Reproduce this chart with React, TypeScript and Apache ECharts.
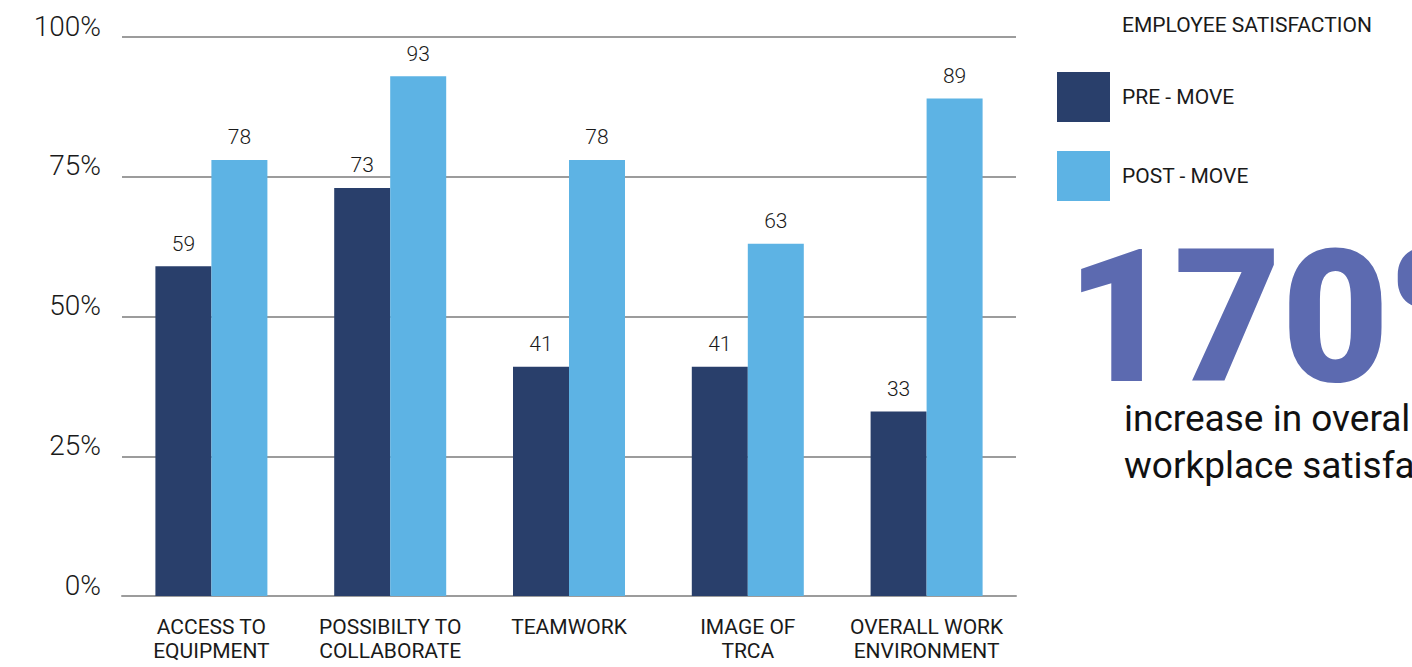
import React, { useEffect, useRef } from "react";
import * as echarts from "echarts";

const categories = [
  "ACCESS TO\nEQUIPMENT",
  "POSSIBILTY TO\nCOLLABORATE",
  "TEAMWORK",
  "IMAGE OF\nTRCA",
  "OVERALL WORK\nENVIRONMENT",
];
const seriesNames = ["PRE - MOVE", "POST - MOVE"];
const preMove = [59, 73, 41, 41, 33];
const postMove = [78, 93, 78, 63, 89];
const yMin = 0;
const yMax = 100;
const yInterval = 25;
const legendTitle = "EMPLOYEE SATISFACTION";
const bigNumber = "170%";
const captionLines = ["increase in overall", "workplace satisfaction"];

const FONT = "Roboto, 'Noto Sans', sans-serif";
const PRE_COLOR = "#293f6b";
const POST_COLOR = "#5db3e4";
const GRID_COLOR = "#9c9c9c";
const TEXT_COLOR = "#1a1a1a";

export default function App() {
  const ref = useRef<HTMLDivElement>(null);

  useEffect(() => {
    if (!ref.current) return;
    const chart = echarts.init(ref.current, undefined, { renderer: "svg" });
    const valueLabel = {
      show: true,
      position: "top",
      distance: 12,
      fontFamily: FONT,
      fontSize: 21,
      fontWeight: 300,
      color: TEXT_COLOR,
    };
    chart.setOption({
      animation: false,
      backgroundColor: "#ffffff",
      grid: { left: 122, right: 396, top: 37, bottom: 71, containLabel: false },
      legend: {
        data: seriesNames,
        orient: "vertical",
        left: 1057,
        top: 72,
        padding: 0,
        icon: "rect",
        itemWidth: 53,
        itemHeight: 50,
        itemGap: 29,
        selectedMode: false,
        textStyle: {
          fontFamily: FONT,
          fontSize: 21,
          fontWeight: 400,
          color: TEXT_COLOR,
          padding: [0, 0, 0, 7],
        },
      },
      xAxis: {
        type: "category",
        data: categories,
        axisLine: { show: true, lineStyle: { color: GRID_COLOR, width: 2 } },
        axisTick: { show: false },
        axisLabel: {
          interval: 0,
          fontFamily: FONT,
          fontSize: 21,
          color: TEXT_COLOR,
          lineHeight: 24,
          margin: 19,
        },
      },
      yAxis: {
        type: "value",
        min: yMin,
        max: yMax,
        interval: yInterval,
        axisLine: { show: false },
        axisTick: { show: false },
        splitLine: { show: true, lineStyle: { color: GRID_COLOR, width: 2 } },
        axisLabel: {
          formatter: (v: number) => `${v}%`,
          fontFamily: FONT,
          fontSize: 28,
          fontWeight: 300,
          color: TEXT_COLOR,
          margin: 21,
          verticalAlign: "bottom",
          lineHeight: 22,
        },
      },
      series: [
        {
          name: seriesNames[0],
          type: "bar",
          data: preMove,
          barWidth: 56,
          barGap: "0%",
          itemStyle: { color: PRE_COLOR },
          label: valueLabel,
        },
        {
          name: seriesNames[1],
          type: "bar",
          data: postMove,
          barWidth: 56,
          barGap: "0%",
          itemStyle: { color: POST_COLOR },
          label: valueLabel,
        },
      ],
      graphic: [
        {
          type: "text",
          left: 1122,
          top: 14,
          style: {
            text: legendTitle,
            fontFamily: FONT,
            fontSize: 21,
            fontWeight: 400,
            fill: TEXT_COLOR,
          },
        },
        {
          type: "text",
          x: 1066,
          y: 317,
          style: {
            text: bigNumber,
            fontFamily: FONT,
            fontSize: 186,
            fontWeight: 900,
            fill: "#5c6ab0",
            verticalAlign: "middle",
            align: "left",
          },
        },
        {
          type: "text",
          x: 1124,
          y: 418,
          style: {
            text: captionLines[0],
            fontFamily: FONT,
            fontSize: 37,
            fontWeight: 400,
            fill: "#111111",
            verticalAlign: "middle",
          },
        },
        {
          type: "text",
          x: 1124,
          y: 465,
          style: {
            text: captionLines[1],
            fontFamily: FONT,
            fontSize: 37,
            fontWeight: 400,
            fill: "#111111",
            verticalAlign: "middle",
          },
        },
      ],
    });
    return () => chart.dispose();
  }, []);

  return (
    <div
      ref={ref}
      style={{ position: "absolute", left: 0, top: 0, width: 1412, height: 667 }}
    />
  );
}
